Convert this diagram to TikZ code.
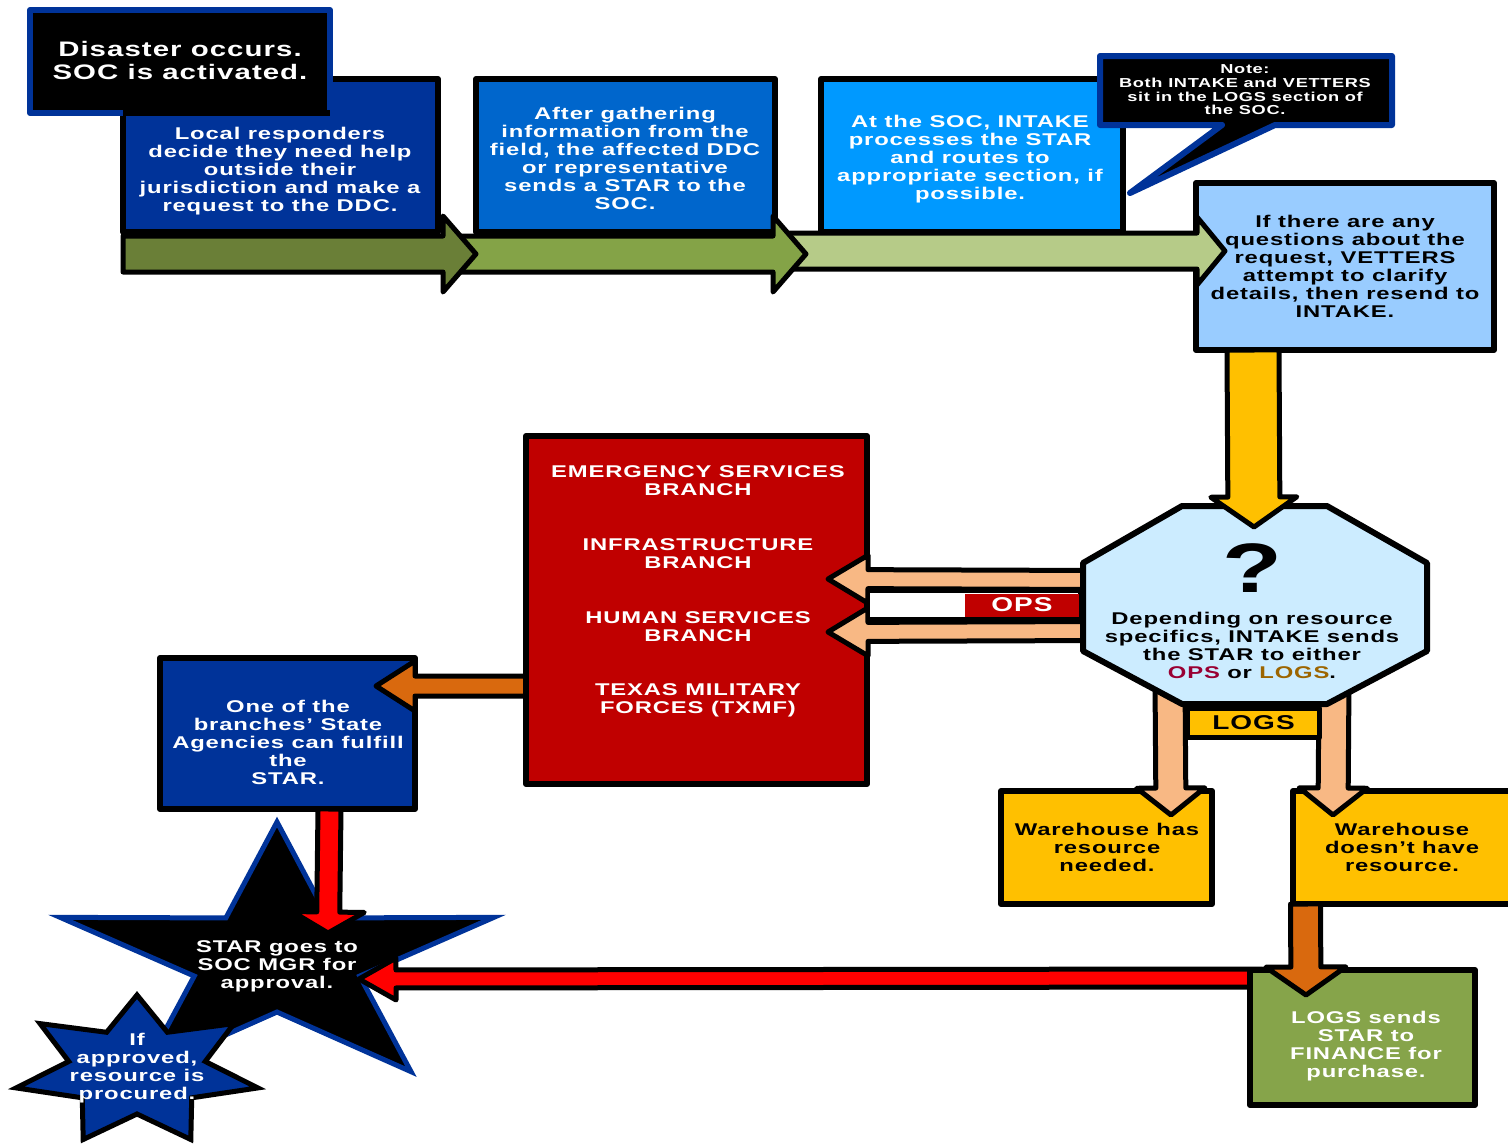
\documentclass[tikz,border=0pt]{standalone}
\usepackage{fontspec}
\setmainfont{Liberation Sans}[FakeStretch=1.4, LetterSpace=5]
\usetikzlibrary{calc}
\definecolor{dblue}{HTML}{003399}
\definecolor{mblue}{HTML}{0066CC}
\definecolor{lblue}{HTML}{0099FF}
\definecolor{pblue}{HTML}{99CCFF}
\definecolor{greenA}{HTML}{6A7F37}
\definecolor{greenB}{HTML}{84A347}
\definecolor{greenC}{HTML}{B6CB88}
\definecolor{gold}{HTML}{FFC000}
\definecolor{peach}{HTML}{F8B884}
\definecolor{dred}{HTML}{C00000}
\definecolor{dorange}{HTML}{D9690E}
\definecolor{octblue}{HTML}{CCECFF}
\definecolor{greenbox}{HTML}{86A44A}
\definecolor{opscol}{HTML}{990033}
\definecolor{logscol}{HTML}{9C6500}
\definecolor{brightred}{HTML}{FF0000}
\tikzset{
  box/.style={draw=black, line width=6pt, line join=round, inner sep=0pt, outer sep=0pt},
  arr/.style={draw=black, line width=5pt, line join=round},
  txt/.style={align=center, inner sep=0pt, outer sep=0pt, text=white, font=\bfseries\fontsize{17}{18}\selectfont},
  btxt/.style={txt, text=black},
}
% block arrow: style, from, to, body half width, head half width, head length
\newcommand\barrow[6]{%
  \coordinate (baH) at ($(#3)!#6!(#2)$);
  \draw[#1] ($(#2)!#4!90:(#3)$) -- ($(baH)!#4!-90:(#2)$) -- ($(baH)!#5!-90:(#2)$) -- (#3)
     -- ($(baH)!#5!90:(#2)$) -- ($(baH)!#4!90:(#2)$) -- ($(#2)!#4!-90:(#3)$) -- cycle;
}
% rectangle node by corners
\newcommand\rbox[6]{%
  \node[box,#2,minimum width={#5-#3},minimum height={#6-#4}] (#1) at ({(#3+#5)/2},{(#4+#6)/2}) {};
}
\begin{document}
\begin{tikzpicture}[x=1pt,y=-1pt]
\useasboundingbox (0,0) rectangle (1508,1144);
% ---------- top row ----------
\rbox{b2}{fill=dblue}{123}{79}{438}{232}
\rbox{b3}{fill=mblue}{476}{79}{775}{232}
\rbox{b4}{fill=lblue}{821}{79}{1123}{232}
\rbox{b5}{fill=pblue}{1196}{183}{1494}{350}
\node[box, draw=dblue, fill=black, minimum width=300, minimum height=103] (b1) at (180,61.5) {};
\draw[line width=6pt, black] (123,113) -- (330,113);
\coordinate (a3s) at (790,251); \coordinate (a3e) at (1225,251);
\barrow{arr,fill=greenC}{a3s}{a3e}{18pt}{34pt}{28pt}
\coordinate (a2s) at (455,254); \coordinate (a2e) at (806,254);
\barrow{arr,fill=greenB}{a2s}{a2e}{18pt}{38pt}{33pt}
\coordinate (a1s) at (123,254); \coordinate (a1e) at (476,254);
\barrow{arr,fill=greenA}{a1s}{a1e}{18pt}{38pt}{33pt}
\draw[line width=6pt, draw=dblue, fill=black, line join=round]
  (1100,56) -- (1392,56) -- (1392,125) -- (1275,125) -- (1130,193) -- (1222,125) -- (1100,125) -- cycle;
\coordinate (note) at (1245,90);
\node[txt, font=\bfseries\fontsize{21}{23}\selectfont] (t1) at (180,60) {Disaster occurs.\\SOC is activated.};
\node[txt] (t2) at (280,171) {Local responders\\decide they need help\\outside their\\jurisdiction and make a\\request to the DDC.};
\node[txt] (t3) at (625,158) {After gathering\\information from the\\field, the affected DDC\\or representative\\sends a STAR to the\\SOC.};
\node[txt] (t4) at (970,159) {At the SOC, INTAKE\\processes the STAR\\and routes to\\appropriate section, if\\possible.};
\node[txt, font=\bfseries\fontsize{13}{13.7}\selectfont] (tn) at (note) {Note:\\Both INTAKE and VETTERS\\sit in the LOGS section of\\the SOC.};
\node[btxt] (t5) at (1345,266) {If there are any\\questions about the\\request, VETTERS\\attempt to clarify\\details, then resend to\\INTAKE.};
% ---------- middle ----------
\rbox{b6}{fill=dblue}{160}{658}{415}{809}
\coordinate (os) at (540,686); \coordinate (oe) at (376,686);
\barrow{arr,fill=dorange}{os}{oe}{10pt}{25pt}{39pt}
\rbox{red}{fill=dred}{526}{436}{867}{784}
\node[txt] (r1) at (698,481) {EMERGENCY SERVICES\\BRANCH};
\node[txt] (r2) at (698,554) {INFRASTRUCTURE\\BRANCH};
\node[txt] (r3) at (698,627) {HUMAN SERVICES\\BRANCH};
\node[txt] (r4) at (698,700) {TEXAS MILITARY\\FORCES (TXMF)};
\node[txt] (t6) at (288,742) {One of the\\branches’ State\\Agencies can fulfill\\the\\STAR.};
\coordinate (o1s) at (1100,580); \coordinate (o1e) at (828,579);
\barrow{arr,fill=peach}{o1s}{o1e}{9.5pt}{24pt}{40pt}
\coordinate (o2s) at (1100,631); \coordinate (o2e) at (828,632);
\barrow{arr,fill=peach}{o2s}{o2e}{9.5pt}{24pt}{40pt}
\node[draw=black, line width=4pt, fill=white, minimum width=212, minimum height=28, inner sep=0pt] (opsbox) at (974,605) {};
\node[fill=dred, minimum width=114, minimum height=23, inner sep=0pt, text=white, font=\bfseries\fontsize{20}{20}\selectfont] (ops) at (1022,605) {OPS};
% warehouses
\rbox{w1}{fill=gold}{1001}{791}{1212}{904}
\rbox{w2}{fill=gold}{1293}{791}{1520}{904}
\coordinate (p1s) at (1170,680); \coordinate (p1e) at (1171,815);
\barrow{arr,fill=peach}{p1s}{p1e}{15pt}{34pt}{27pt}
\coordinate (p2s) at (1334,680); \coordinate (p2e) at (1333,815);
\barrow{arr,fill=peach}{p2s}{p2e}{15pt}{34pt}{27pt}
\draw[line width=6pt, fill=octblue, line join=round]
  (1182,506) -- (1327,506) -- (1427,563) -- (1427,651) -- (1327,704) -- (1182,704) -- (1083,651) -- (1083,563) -- cycle;
\coordinate (oct) at (1255,605);
\coordinate (ys) at (1253,350); \coordinate (ye) at (1254,527);
\barrow{arr,fill=gold}{ys}{ye}{26pt}{43pt}{30pt}
\node[font=\bfseries\fontsize{70}{70}\selectfont, inner sep=0pt] (q) at (1252,568) {?};
\node[btxt] (t7) at (1252,645) {Depending on resource\\specifics, INTAKE sends\\the STAR to either\\{\color{opscol}OPS} or {\color{logscol}LOGS}.};
\node[box, line width=5pt, fill=gold, minimum width=132, minimum height=29, btxt, font=\bfseries\fontsize{20}{20}\selectfont] (logs) at (1253.5,723) {LOGS};
\node[btxt] (t8) at (1107,847) {Warehouse has\\resource\\needed.};
\node[btxt] (t9) at (1402,847) {Warehouse\\doesn’t have\\resource.};
% ---------- bottom ----------
\draw[line width=5pt, draw=dblue, fill=black, line join=miter]
  plot[samples at={0,...,9}, variable=\k]
  ({277+ifthenelse(mod(\k,2)==0,228,87)*cos(90+36*\k)}, {960-ifthenelse(mod(\k,2)==0,138,52)*sin(90+36*\k)}) -- cycle;
\coordinate (bigstar) at (277,960);
\draw[line width=5pt, draw=black, fill=dblue, line join=miter]
  plot[samples at={0,...,13}, variable=\k]
  ({137+ifthenelse(mod(\k,2)==0,124,70)*cos(90+360/14*\k)}, {1071-ifthenelse(mod(\k,2)==0,76,43)*sin(90+360/14*\k)}) -- cycle;
\coordinate (smallstar) at (137,1071);
\coordinate (rds) at (329.5,809); \coordinate (rde) at (328,933);
\barrow{arr,fill=brightred}{rds}{rde}{11.5pt}{36pt}{21pt}
\coordinate (rhs) at (1262,978); \coordinate (rhe) at (359,979);
\barrow{arr,fill=brightred}{rhs}{rhe}{9pt}{21pt}{37pt}
\rbox{g}{fill=greenbox}{1250}{970}{1475}{1105}
\coordinate (dos) at (1305.5,904); \coordinate (doe) at (1306,995);
\barrow{arr,fill=dorange}{dos}{doe}{15pt}{40pt}{28pt}
\node[txt] (t10) at (1366,1046) {LOGS sends\\STAR to\\FINANCE for\\purchase.};
\node[txt] (t11) at (277,966) {STAR goes to\\SOC MGR for\\approval.};
\node[txt] (t12) at (137,1068) {If\\approved,\\resource is\\procured.};
\end{tikzpicture}
\end{document}
